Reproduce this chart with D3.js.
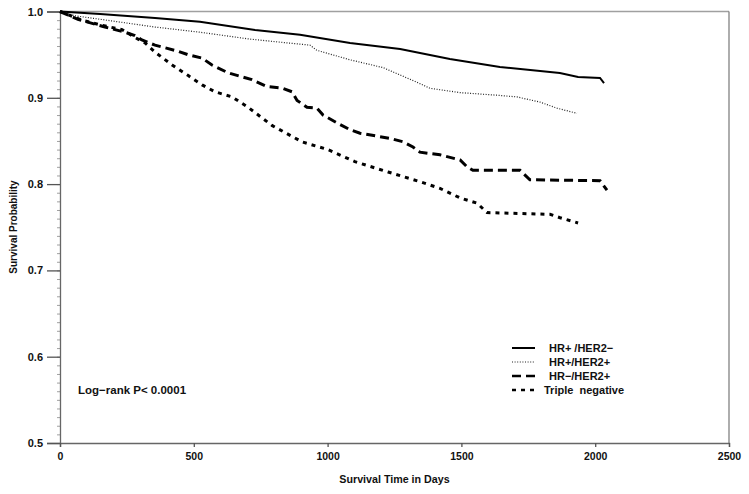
<!DOCTYPE html>
<html>
<head>
<meta charset="utf-8">
<script src="https://cdn.jsdelivr.net/npm/d3@7"></script>
<style>
  html, body { margin: 0; padding: 0; background: #fff; }
  svg { display: block; font-family: "Liberation Sans", Arial, sans-serif; }
</style>
</head>
<body>
<svg id="chart" width="749" height="494"></svg>
<script>
// ---- Data ----
const seriesNames = ["HR+/HER2\u2212", "HR+/HER2+", "HR\u2212/HER2+", "Triple negative"];
const legendLabels = ["HR+ /HER2\u2212", "HR+/HER2+", "HR\u2212/HER2+", "Triple  negative"];

const timeHRposHER2neg = [0, 150, 355, 523, 729, 897, 1084, 1271, 1457, 1644, 1868, 1936, 2018, 2033];
const survHRposHER2neg = [1.0, 0.997, 0.9925, 0.988, 0.9786, 0.973, 0.9635, 0.9565, 0.945, 0.9357, 0.9287, 0.924, 0.923, 0.917];

const timeHRposHER2pos = [0, 56, 150, 355, 523, 710, 934, 960, 1084, 1207, 1334, 1383, 1495, 1633, 1708, 1794, 1857, 1932];
const survHRposHER2pos = [1.0, 0.995, 0.991, 0.982, 0.976, 0.968, 0.961, 0.955, 0.944, 0.935, 0.918, 0.911, 0.906, 0.903, 0.901, 0.895, 0.888, 0.882];

const timeHRnegHER2pos = [0, 67, 168, 243, 280, 306, 355, 441, 478, 531, 568, 628, 717, 774, 833, 867, 886, 923, 960, 983, 1035, 1084, 1121, 1233, 1282, 1319, 1345, 1420, 1495, 1521, 1543, 1719, 1756, 2018, 2044];
const survHRnegHER2pos = [1.0, 0.991, 0.982, 0.976, 0.972, 0.967, 0.961, 0.954, 0.950, 0.946, 0.938, 0.929, 0.921, 0.913, 0.911, 0.907, 0.897, 0.889, 0.888, 0.880, 0.871, 0.863, 0.859, 0.853, 0.849, 0.843, 0.837, 0.834, 0.828, 0.820, 0.816, 0.816, 0.805, 0.804, 0.793];

const timeTripleNeg = [0, 82, 157, 232, 280, 318, 355, 419, 478, 531, 579, 643, 703, 792, 904, 1001, 1102, 1226, 1353, 1420, 1495, 1558, 1596, 1831, 1869, 1936];
const survTripleNeg = [1.0, 0.990, 0.984, 0.979, 0.970, 0.9635, 0.953, 0.938, 0.926, 0.915, 0.907, 0.901, 0.889, 0.868, 0.849, 0.840, 0.826, 0.814, 0.802, 0.795, 0.784, 0.778, 0.767, 0.765, 0.761, 0.755];

const xTickValues = [0, 500, 1000, 1500, 2000, 2500];
const yTickValues = [0.5, 0.6, 0.7, 0.8, 0.9, 1.0];

const xTitle = "Survival Time in Days";
const yTitle = "Survival Probability";
const annotation = "Log\u2212rank P< 0.0001";

// ---- Layout ----
const svg = d3.select("#chart");
const plotL = 60, plotR = 729, plotT = 11.5, plotB = 443;

const x = d3.scaleLinear().domain([0, 2500]).range([plotL, plotR]);
const y = d3.scaleLinear().domain([0.5, 1.0]).range([plotB, plotT]);

// frame (top and right)
svg.append("line").attr("x1", plotL).attr("x2", plotR).attr("y1", plotT).attr("y2", plotT)
  .attr("stroke", "#a0a0a0").attr("stroke-width", 1.6);
svg.append("line").attr("x1", plotR).attr("x2", plotR).attr("y1", plotT).attr("y2", plotB)
  .attr("stroke", "#777").attr("stroke-width", 1.2);

// minor y ticks
const minorVals = d3.range(50, 101).map(d => d / 100);
svg.append("g").attr("transform", `translate(${plotL},0)`)
  .call(d3.axisLeft(y).tickValues(minorVals).tickSize(3).tickFormat(""))
  .call(g => g.select(".domain").remove())
  .call(g => g.selectAll("line").attr("stroke", "#888").attr("stroke-width", 0.8));

// y axis
const yAxis = svg.append("g").attr("transform", `translate(${plotL},0)`)
  .call(d3.axisLeft(y).tickValues(yTickValues).tickSize(13).tickPadding(4).tickFormat(d3.format(".1f")));
yAxis.select(".domain").attr("stroke", "#666").attr("stroke-width", 1.3);
yAxis.selectAll(".tick line").attr("stroke", "#555").attr("stroke-width", 1.3);
yAxis.selectAll("text").attr("font-size", 11).attr("font-weight", "bold").attr("fill", "#111")
  .attr("font-family", "Liberation Sans, Arial, sans-serif");

// x axis
const xAxis = svg.append("g").attr("transform", `translate(0,${plotB})`)
  .call(d3.axisBottom(x).tickValues(xTickValues).tickSize(4).tickPadding(6).tickFormat(d3.format("d")));
xAxis.select(".domain").attr("stroke", "#666").attr("stroke-width", 1.3);
xAxis.selectAll(".tick line").attr("stroke", "#555").attr("stroke-width", 1.3);
xAxis.selectAll("text").attr("font-size", 10.5).attr("font-weight", "bold").attr("fill", "#111")
  .attr("font-family", "Liberation Sans, Arial, sans-serif");

// axis titles
svg.append("text").attr("x", (plotL + plotR) / 2).attr("y", 483).attr("text-anchor", "middle")
  .attr("font-size", 10.7).attr("font-weight", "bold").attr("fill", "#111").text(xTitle);
svg.append("text").attr("transform", `translate(17,227) rotate(-90)`)
  .attr("text-anchor", "middle").attr("font-size", 10).attr("font-weight", "bold").attr("fill", "#111").text(yTitle);

// series
const styles = [
  { width: 2, dash: null, color: "#000" },
  { width: 1.2, dash: "1,1.6", color: "#222" },
  { width: 3, dash: "9,5", color: "#000" },
  { width: 3, dash: "4,5", color: "#000" }
];
const seriesData = [
  d3.zip(timeHRposHER2neg, survHRposHER2neg),
  d3.zip(timeHRposHER2pos, survHRposHER2pos),
  d3.zip(timeHRnegHER2pos, survHRnegHER2pos),
  d3.zip(timeTripleNeg, survTripleNeg)
];
const line = d3.line().x(d => x(d[0])).y(d => y(d[1])).curve(d3.curveLinear);

seriesData.forEach((data, i) => {
  svg.append("path").datum(data)
    .attr("d", line)
    .attr("fill", "none")
    .attr("stroke", styles[i].color)
    .attr("stroke-width", styles[i].width)
    .attr("stroke-dasharray", styles[i].dash)
    .attr("data-series", seriesNames[i]);
});

// legend
const legendY = [348, 362, 376, 390];
const legendX = [549, 549, 549, 544];
const legend = svg.append("g");
legendLabels.forEach((lab, i) => {
  const s = styles[i];
  legend.append("line").attr("x1", 512).attr("x2", 535).attr("y1", legendY[i]).attr("y2", legendY[i])
    .attr("stroke", s.color).attr("stroke-width", s.width === 3 ? 2.5 : s.width)
    .attr("stroke-dasharray", s.dash);
  legend.append("text").attr("x", legendX[i]).attr("y", legendY[i] + 4).attr("text-anchor", "start")
    .attr("font-size", 11).attr("font-weight", "bold").attr("fill", "#111")
    .style("white-space", "pre").text(lab);
});

// annotation
svg.append("text").attr("x", 78).attr("y", 394).attr("font-size", 11.5).attr("font-weight", "bold")
  .attr("fill", "#111").text(annotation);
</script>
</body>
</html>
